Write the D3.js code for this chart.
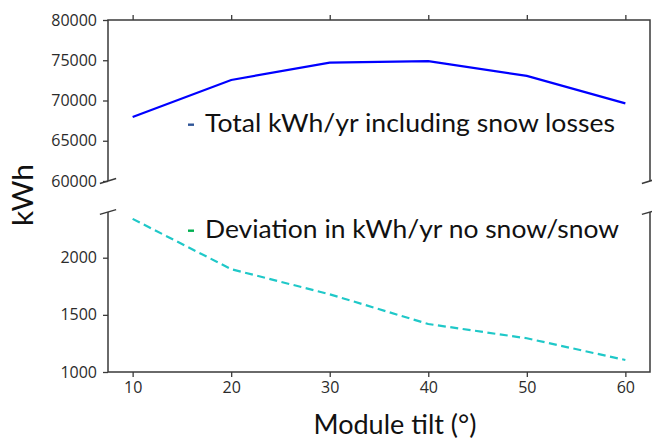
<!DOCTYPE html>
<html>
<head>
<meta charset="utf-8">
<script src="https://cdn.jsdelivr.net/npm/d3@7"></script>
<style>
  html, body { margin: 0; padding: 0; background: #fff; }
  svg { display: block; }
  .tick text { font-family: "Open Sans", sans-serif; font-size: 16px; fill: #2b2b2b; }
</style>
</head>
<body>
<svg id="chart" width="652" height="439"></svg>
<script>
// Module tilt angles (degrees)
const tilts = [10, 20, 30, 40, 50, 60];
// Annual energy including snow losses (kWh/yr)
const totalKwh = [67950, 72550, 74700, 74900, 73050, 69650];
// Difference between no-snow and snow yield (kWh/yr)
const deviationKwh = [2340, 1900, 1680, 1420, 1295, 1105];

const xTicks = [10, 20, 30, 40, 50, 60];
const upperTicks = [60000, 65000, 70000, 75000, 80000];
const lowerTicks = [1000, 1500, 2000];

const upperLabel = "Total kWh/yr including snow losses";
const lowerLabel = "Deviation in kWh/yr no snow/snow";

const svg = d3.select("#chart");

const left = 108, right = 650;
const upper = { top: 20, bottom: 181 };
const lower = { top: 212, bottom: 372 };
const spineColor = "#3a3a3a";

// shared x scale with a 5% margin on each side of the data range
const x = d3.scaleLinear().domain([7.5, 62.5]).range([left, right]);
const yUpper = d3.scaleLinear().domain([60000, 80000]).range([upper.bottom, upper.top]);
const yLower = d3.scaleLinear().domain([1000, 2400]).range([lower.bottom, lower.top]);

function styleAxis(g) {
  g.select(".domain").remove();
  g.selectAll(".tick line").attr("stroke", spineColor).attr("stroke-width", 1.3);
}

// ---- upper panel axes ----
svg.append("g")
  .attr("transform", `translate(${left},0)`)
  .call(d3.axisLeft(yUpper).tickValues(upperTicks).tickFormat(d3.format("d")).tickSize(5).tickPadding(6))
  .call(styleAxis);

svg.append("g")
  .attr("transform", `translate(0,${upper.top})`)
  .call(d3.axisTop(x).tickValues(xTicks).tickFormat("").tickSize(5))
  .call(styleAxis);

// ---- lower panel axes ----
svg.append("g")
  .attr("transform", `translate(${left},0)`)
  .call(d3.axisLeft(yLower).tickValues(lowerTicks).tickFormat(d3.format("d")).tickSize(5).tickPadding(6))
  .call(styleAxis);

svg.append("g")
  .attr("transform", `translate(0,${lower.bottom})`)
  .call(d3.axisBottom(x).tickValues(xTicks).tickFormat(d3.format("d")).tickSize(5).tickPadding(5))
  .call(styleAxis);

// ---- spines (open at the break) ----
const spines = svg.append("g").attr("fill", "none").attr("stroke", spineColor).attr("stroke-width", 1.5);
spines.append("path").attr("d", `M${left},${upper.bottom}V${upper.top}H${right}V${upper.bottom}`);
spines.append("path").attr("d", `M${left},${lower.top}V${lower.bottom}H${right}V${lower.top}`);

// diagonal break marks at the cut edges
const dx = 0.015 * (right - left);
[[upper.bottom, (upper.bottom - upper.top)], [lower.top, (lower.bottom - lower.top)]].forEach(([yy, h]) => {
  const dy = 0.015 * h;
  [left, right].forEach(xx => {
    spines.append("line")
      .attr("x1", xx - dx).attr("y1", yy + dy)
      .attr("x2", xx + dx).attr("y2", yy - dy);
  });
});

// ---- data lines ----
const data = tilts.map((t, i) => ({ t, total: totalKwh[i], dev: deviationKwh[i] }));

svg.append("path")
  .datum(data)
  .attr("fill", "none")
  .attr("stroke", "#0000ff")
  .attr("stroke-width", 2.2)
  .attr("d", d3.line().x(d => x(d.t)).y(d => yUpper(d.total)));

svg.append("path")
  .datum(data)
  .attr("fill", "none")
  .attr("stroke", "#1fc8c8")
  .attr("stroke-width", 2.2)
  .attr("stroke-dasharray", "8,4.5")
  .attr("d", d3.line().x(d => x(d.t)).y(d => yLower(d.dev)));

// ---- series annotations ----
const noteFont = "Lato, 'Open Sans', sans-serif";
function note(y, dashColor, label, width) {
  svg.append("rect").attr("x", 188).attr("y", y - 8.5).attr("width", 6).attr("height", 2.4).attr("fill", dashColor);
  svg.append("text")
    .attr("x", 205).attr("y", y)
    .attr("font-family", noteFont)
    .attr("font-size", 25)
    .attr("textLength", width)
    .attr("lengthAdjust", "spacingAndGlyphs")
    .attr("fill", "#111")
    .text(label);
}
note(132, "#2f5597", upperLabel, 410);
note(238, "#00b050", lowerLabel, 414);

// ---- axis titles ----
svg.append("text")
  .attr("transform", "translate(33,195) rotate(-90)")
  .attr("text-anchor", "middle")
  .attr("font-family", noteFont)
  .attr("font-size", 28)
  .attr("textLength", 62)
  .attr("lengthAdjust", "spacingAndGlyphs")
  .attr("fill", "#111")
  .text("kWh");

svg.append("text")
  .attr("x", 395).attr("y", 434)
  .attr("text-anchor", "middle")
  .attr("font-family", noteFont)
  .attr("font-size", 26)
  .attr("textLength", 163)
  .attr("lengthAdjust", "spacingAndGlyphs")
  .attr("fill", "#111")
  .text("Module tilt (°)");
</script>
</body>
</html>
